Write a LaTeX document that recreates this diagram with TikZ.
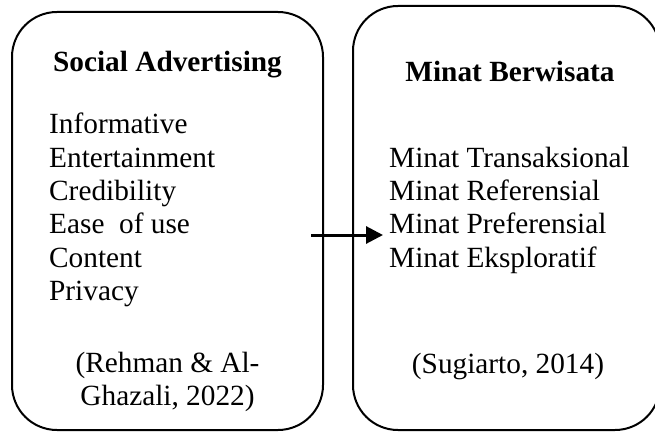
\documentclass[tikz,border=0pt]{standalone}
\usepackage{fontspec}
\setmainfont{Liberation Serif}
\usetikzlibrary{arrows.meta}
\tikzset{
  panel/.style={draw=black, line width=2pt, rounded corners=45pt, inner sep=0pt},
  txt/.style={inner sep=0pt, font=\fontsize{29.3}{33.4}\selectfont},
  ttl/.style={txt, font=\fontsize{29.3}{33.4}\selectfont\bfseries},
  link/.style={line width=3pt, -{Triangle[length=17pt,width=17pt]}}
}
\begin{document}
\begin{tikzpicture}[x=1pt,y=-1pt]
\useasboundingbox (0,0) rectangle (655,433);
\clip (0,0) rectangle (655,433);
\fill[white] (0,0) rectangle (655,433);
\node[panel, minimum width=311pt, minimum height=418pt] (left) at (167.5,221) {};
\node[panel, minimum width=307pt, minimum height=424pt] (right) at (506.5,218) {};
\node[ttl, anchor=base] (lt) at (167.5,72) {Social Advertising};
\node[txt, anchor=base west] (l1) at (49,133) {Informative};
\node[txt, anchor=base west] (l2) at (49,167) {Entertainment};
\node[txt, anchor=base west] (l3) at (49,200) {Credibility};
\node[txt, anchor=base west] (l4) at (49,233) {Ease \ of use};
\node[txt, anchor=base west] (l5) at (49,267) {Content};
\node[txt, anchor=base west] (l6) at (49,300) {Privacy};
\node[txt, anchor=base] (lc1) at (167.5,372) {(Rehman \& Al-};
\node[txt, anchor=base] (lc2) at (167.5,405) {Ghazali, 2022)};
\node[ttl, anchor=base] (rt) at (510,82) {Minat Berwisata};
\node[txt, anchor=base west] (r1) at (389,167) {Minat Transaksional};
\node[txt, anchor=base west] (r2) at (389,200) {Minat Referensial};
\node[txt, anchor=base west] (r3) at (389,233) {Minat Preferensial};
\node[txt, anchor=base west] (r4) at (389,267) {Minat Eksploratif};
\node[txt, anchor=base] (rc) at (508,373) {(Sugiarto, 2014)};
\coordinate (as) at (311,235);
\coordinate (ae) at (383,235);
\draw[link] (as) -- (ae);
\end{tikzpicture}
\end{document}
